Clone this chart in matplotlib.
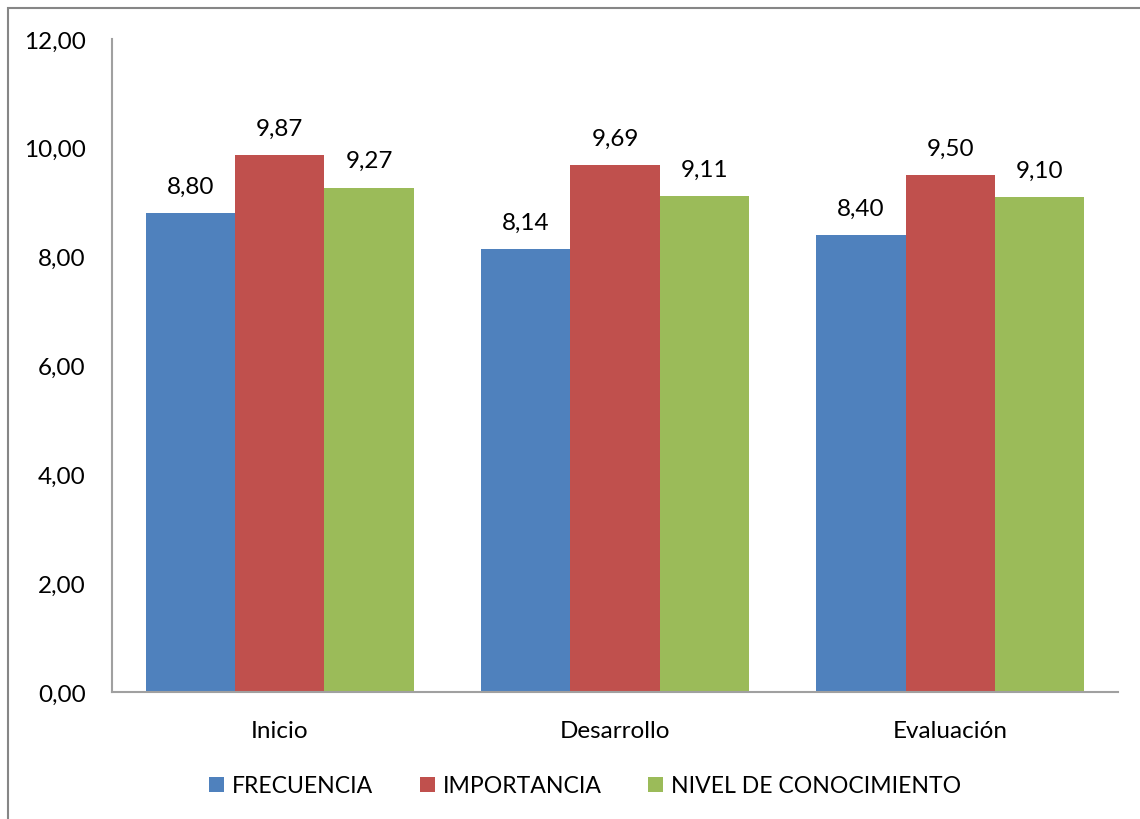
import numpy as np
import matplotlib.pyplot as plt
from matplotlib.patches import Rectangle

plt.rcParams['font.family'] = ['Lato', 'DejaVu Sans']

categorias = ['Inicio', 'Desarrollo', 'Evaluación']
series = ['FRECUENCIA', 'IMPORTANCIA', 'NIVEL DE CONOCIMIENTO']
frecuencia = [8.80, 8.14, 8.40]
importancia = [9.87, 9.69, 9.50]
conocimiento = [9.27, 9.11, 9.10]
colores = ['#4F81BD', '#C0504D', '#9BBB59']

W, H = 1140, 820
fs = 17.5
fig = plt.figure(figsize=(W / 100, H / 100), dpi=100)
ax = fig.add_axes([112 / W, 1 - 693 / H, (1118 - 112) / W, (693 - 40) / H])

# outer chart border
fig.patches.append(Rectangle((8 / W, -0.05), 1.1, 1 - 9 / H + 0.05,
                             transform=fig.transFigure, fill=False,
                             edgecolor='#868686', linewidth=1.5))

x = np.arange(len(categorias))
w = 0.8 / 3
for i, (vals, name) in enumerate(zip([frecuencia, importancia, conocimiento], series)):
    bars = ax.bar(x + (i - 1) * w, vals, w, color=colores[i], label=name)
    for b, v in zip(bars, vals):
        ax.text(b.get_x() + b.get_width() / 2, v + 0.3, f'{v:.2f}'.replace('.', ','),
                ha='center', va='bottom', fontsize=fs)

ax.set_xlim(-0.5, 2.5)
ax.set_ylim(0, 12)
ax.set_yticks(np.arange(0, 12.1, 2))
ax.set_yticklabels([f'{t:.2f}'.replace('.', ',') for t in np.arange(0, 12.1, 2)])
ax.set_xticks(x)
ax.set_xticklabels(categorias)
ax.tick_params(axis='both', length=0, labelsize=fs)
ax.tick_params(axis='y', pad=19)
ax.tick_params(axis='x', pad=20)
for s in ['top', 'right']:
    ax.spines[s].set_visible(False)
for s in ['left', 'bottom']:
    ax.spines[s].set_color('#A0A0A0')
    ax.spines[s].set_linewidth(1.5)

fig.legend(loc='center', bbox_to_anchor=(585 / W, 1 - 787 / H), ncol=3,
           frameon=False, fontsize=16.6, handlelength=0.65, handleheight=0.65,
           handletextpad=0.35, columnspacing=2.0)

fig.savefig('out.png', dpi=100)
